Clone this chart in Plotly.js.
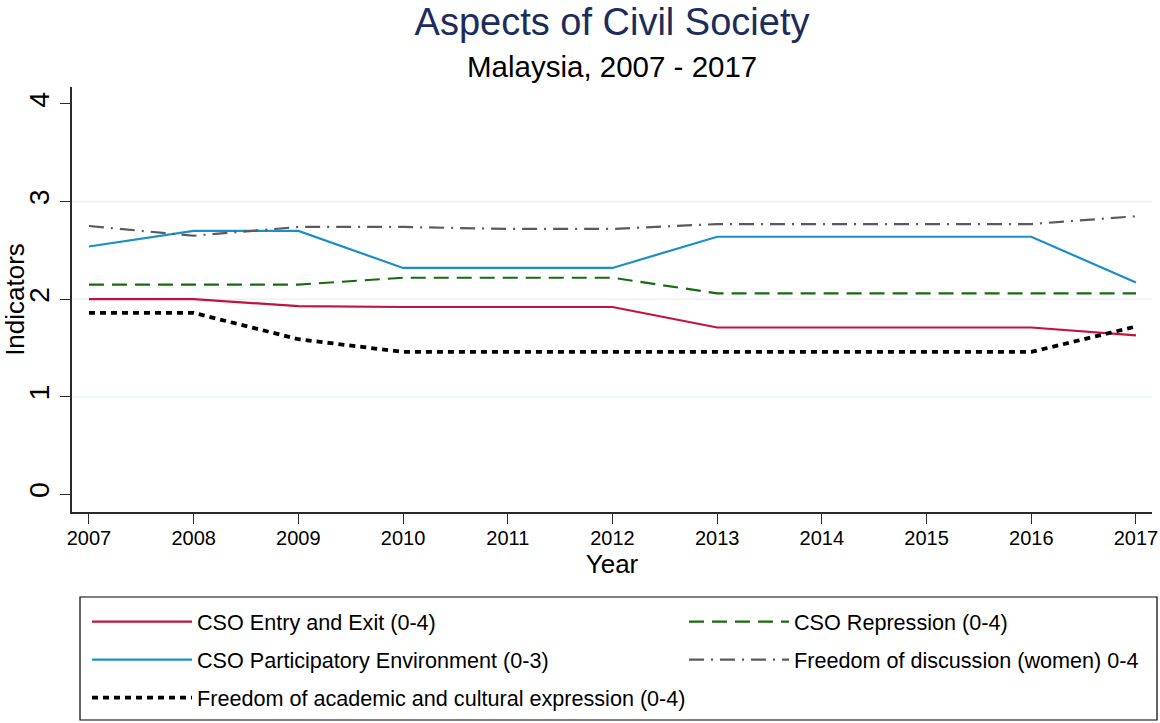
<!DOCTYPE html>
<html>
<head>
<meta charset="utf-8">
<script src="https://cdn.plot.ly/plotly-3.0.1.min.js"></script>
<style>
  html, body { margin: 0; padding: 0; background: #ffffff; }
  #chart { width: 1160px; height: 723px; }
</style>
</head>
<body>
<div id="chart"></div>
<script>
// ---- data ----
var years = [2007, 2008, 2009, 2010, 2011, 2012, 2013, 2014, 2015, 2016, 2017];
var csoEntryExit     = [2.00, 2.00, 1.93, 1.92, 1.92, 1.92, 1.71, 1.71, 1.71, 1.71, 1.63];
var csoRepression    = [2.15, 2.15, 2.15, 2.22, 2.22, 2.22, 2.06, 2.06, 2.06, 2.06, 2.06];
var csoParticipatory = [2.54, 2.70, 2.70, 2.32, 2.32, 2.32, 2.64, 2.64, 2.64, 2.64, 2.17];
var discussionWomen  = [2.75, 2.65, 2.74, 2.74, 2.72, 2.72, 2.77, 2.77, 2.77, 2.77, 2.85];
var academicFreedom  = [1.86, 1.86, 1.59, 1.46, 1.46, 1.46, 1.46, 1.46, 1.46, 1.46, 1.72];
var seriesNames = [
  "CSO Entry and Exit (0-4)",
  "CSO Repression (0-4)",
  "CSO Participatory Environment (0-3)",
  "Freedom of discussion (women) 0-4",
  "Freedom of academic and cultural expression (0-4)"
];
var yTicks = [0, 1, 2, 3, 4];
var gridLevels = [1, 2, 3];
var titleText = "Aspects of Civil Society";
var subtitleText = "Malaysia, 2007 - 2017";

// ---- traces ----
function mk(y, name, color, dash, width, legendId, group) {
  return {
    x: years, y: y, name: name, type: "scatter", mode: "lines",
    line: { color: color, dash: dash, width: width },
    legend: legendId, legendgroup: group, hoverinfo: "x+y+name"
  };
}
var data = [
  mk(csoEntryExit,     seriesNames[0], "#c4113d", "solid",            2.2, "legend",  "g1"),
  mk(csoParticipatory, seriesNames[2], "#1b8ec6", "solid",            2.2, "legend",  "g3"),
  mk(academicFreedom,  seriesNames[4], "#000000", "6px,5px",          3.8, "legend",  "g5"),
  mk(csoRepression,    seriesNames[1], "#176b0f", "15px,8px",         2.2, "legend2", "g2"),
  mk(discussionWomen,  seriesNames[3], "#5a5a5a", "15px,7px,2px,7px", 2.2, "legend2", "g4")
];

var FONT = "Liberation Sans, Arial, Helvetica, sans-serif";

var shapes = gridLevels.map(function (v) {
  return { type: "line", xref: "paper", yref: "y", x0: 0, x1: 1, y0: v, y1: v,
           line: { color: "#eaf2f3", width: 1.6 }, layer: "below" };
});
// legend frame
shapes.push({ type: "rect", xref: "paper", yref: "paper",
  x0: (80 - 72) / 1080, x1: (1157 - 72) / 1080,
  y0: (512 - 720) / 425, y1: (512 - 597) / 425,
  line: { color: "#000000", width: 1.2 }, fillcolor: "rgba(0,0,0,0)", layer: "below" });

var legendCommon = {
  font: { family: FONT, size: 21.6, color: "#000000" },
  bgcolor: "rgba(0,0,0,0)", borderwidth: 0,
  itemwidth: 100, tracegroupgap: 7, orientation: "v",
  xanchor: "left", yanchor: "top", yref: "container", xref: "paper",
  itemclick: false, itemdoubleclick: false
};

var layout = {
  width: 1160, height: 723,
  margin: { l: 72, r: 8, t: 87, b: 211 },
  paper_bgcolor: "#ffffff", plot_bgcolor: "#ffffff",
  font: { family: FONT, color: "#000000" },
  title: {
    text: titleText, font: { family: FONT, size: 38, color: "#1c2c5b" },
    x: 0.5, xref: "paper", xanchor: "center",
    y: 1 - 22 / 723, yref: "container", yanchor: "middle"
  },
  annotations: [{
    text: subtitleText, showarrow: false, xref: "paper", yref: "paper",
    x: 0.5, xanchor: "center", y: (512 - 67) / 425, yanchor: "middle",
    font: { family: FONT, size: 29.5, color: "#000000" }
  }],
  xaxis: {
    range: [2006.838, 2017.153], tickvals: years, ticktext: years.map(String),
    showline: true, linecolor: "#2a2a2a", linewidth: 1.5, mirror: false,
    ticks: "outside", ticklen: 10, tickwidth: 1.3, tickcolor: "#2a2a2a",
    showgrid: false, zeroline: false, ticklabelstandoff: -3,
    tickfont: { family: FONT, size: 20, color: "#000000" },
    title: { text: "Year", font: { family: FONT, size: 26, color: "#000000" }, standoff: 2 }
  },
  yaxis: {
    range: [-0.18, 4.174], tickvals: yTicks, ticktext: yTicks.map(String),
    tickangle: -90,
    showline: true, linecolor: "#2a2a2a", linewidth: 1.5,
    ticks: "outside", ticklen: 10, tickwidth: 1.3, tickcolor: "#2a2a2a",
    showgrid: false, zeroline: false,
    tickfont: { family: FONT, size: 28.5, color: "#000000" },
    title: { text: "Indicators", font: { family: FONT, size: 26, color: "#000000" }, standoff: 6 }
  },
  shapes: shapes,
  showlegend: true,
  legend: Object.assign({}, legendCommon, { x: (87 - 72) / 1080, y: 1 - 601 / 723 }),
  legend2: Object.assign({}, legendCommon, { x: (684 - 72) / 1080, y: 1 - 601 / 723 })
};

Plotly.newPlot("chart", data, layout, { displayModeBar: false, staticPlot: false });
</script>
</body>
</html>
